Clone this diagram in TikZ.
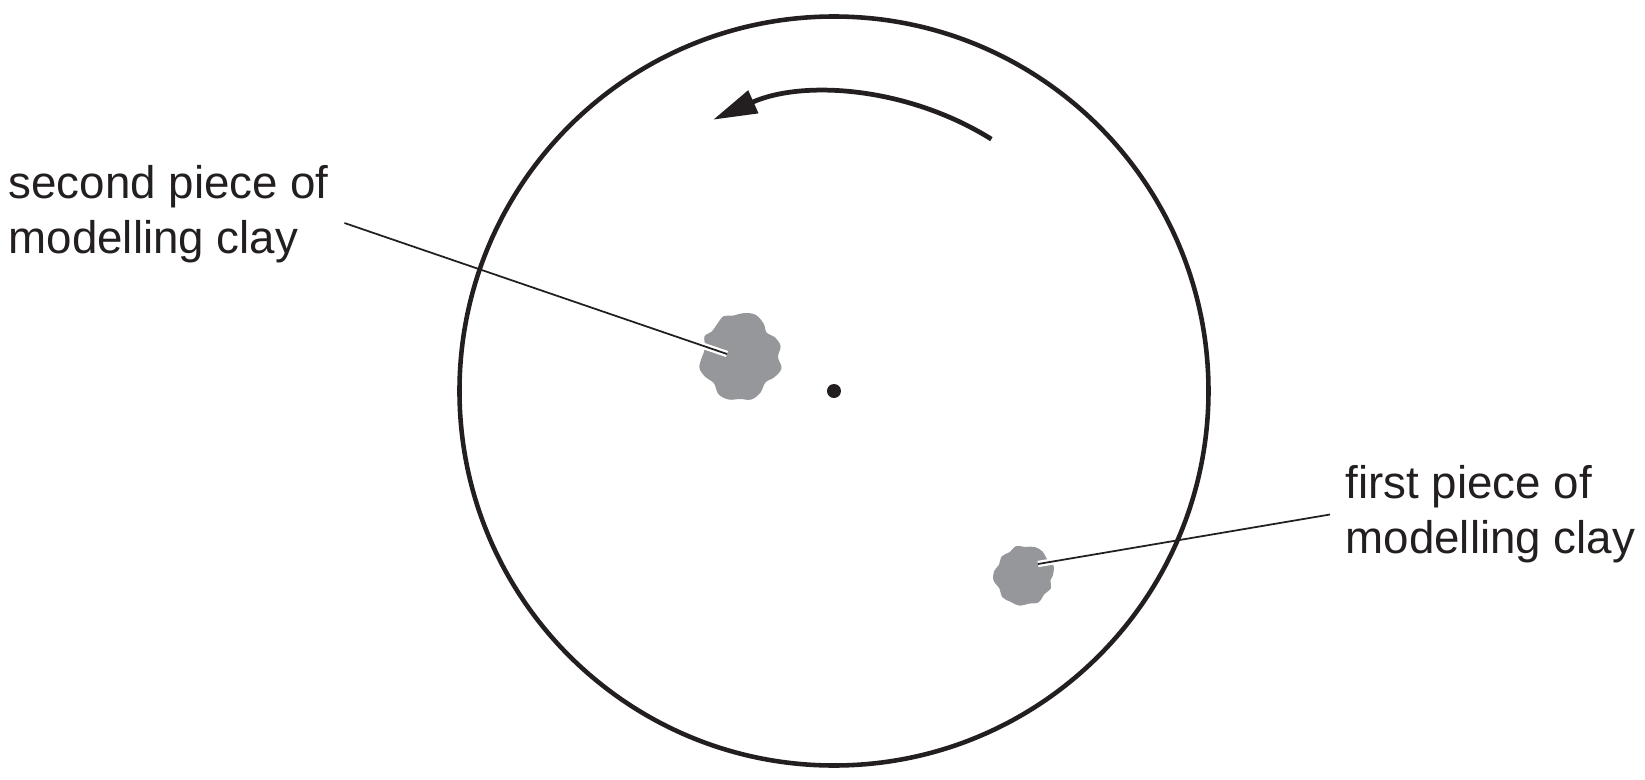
\documentclass[tikz,border=0pt]{standalone}
\usepackage{fontspec}
\setmainfont{Liberation Sans}
\usetikzlibrary{arrows.meta,calc}

\definecolor{ink}{RGB}{35,31,32}
\definecolor{claygrey}{RGB}{150,151,154}

\tikzset{
  label/.style={align=left, inner sep=1.5mm, text=ink,
    font=\fontsize{13}{15.6}\selectfont},
  leader/.style={draw=ink, line width=0.5pt},
  clay/.style={fill=claygrey, draw=none}
}

\begin{document}
\begin{tikzpicture}

            \useasboundingbox (-8.34,-3.88) rectangle (8.11,3.91);

            \draw[ink, line width=1.3pt] (0,0) circle[radius=3.745];
            \fill[ink] (0,0) circle[radius=0.07];

            \draw[ink, line width=1.35pt, -{Triangle[length=4.4mm,width=2.4mm]}]
                (58:2.97) arc[start angle=58, end angle=114, radius=2.97];

            \fill[clay, shift={(-0.94,0.34)}] plot[smooth cycle, tension=0.6] coordinates
                {(0:0.38) (15:0.42) (30:0.40) (42:0.36) (55:0.41) (70:0.45) (85:0.44)
                 (100:0.42) (112:0.44) (125:0.40) (138:0.38) (150:0.41) (165:0.36)
                 (180:0.38) (195:0.42) (210:0.40) (225:0.37) (240:0.43) (255:0.44)
                 (270:0.42) (285:0.44) (300:0.41) (315:0.36) (330:0.40) (345:0.43)};
            \fill[clay, shift={(1.90,-1.84)}] plot[smooth cycle, tension=0.6] coordinates
                {(0:0.29) (18:0.31) (35:0.28) (52:0.30) (70:0.30) (88:0.28) (105:0.30)
                 (122:0.27) (140:0.29) (158:0.27) (172:0.30) (190:0.31) (208:0.28)
                 (226:0.31) (244:0.30) (262:0.31) (280:0.29) (298:0.31) (316:0.28)
                 (334:0.30) (348:0.27)};

            \node[label, anchor=west] (secondlbl) at (-8.41,1.77) {second piece of\\modelling clay};
            \node[label, anchor=west] (firstlbl)  at (4.96,-1.235) {first piece of\\modelling clay};

            \coordinate (secondclay) at (-1.07,0.37);
            \coordinate (firstclay)  at (2.04,-1.73);
            \coordinate (secondend)  at ($(secondlbl.east)+(0,-0.09)$);

            \draw[white, line width=1.8pt] (secondclay) -- ($(secondclay)!0.3cm!(secondend)$);
            \draw[white, line width=1.8pt] (firstclay) -- ($(firstclay)!0.2cm!(firstlbl.west)$);
            \draw[leader] (secondend) -- (secondclay);
            \draw[leader] (firstlbl.west) -- (firstclay);

        \end{tikzpicture}
\end{document}
